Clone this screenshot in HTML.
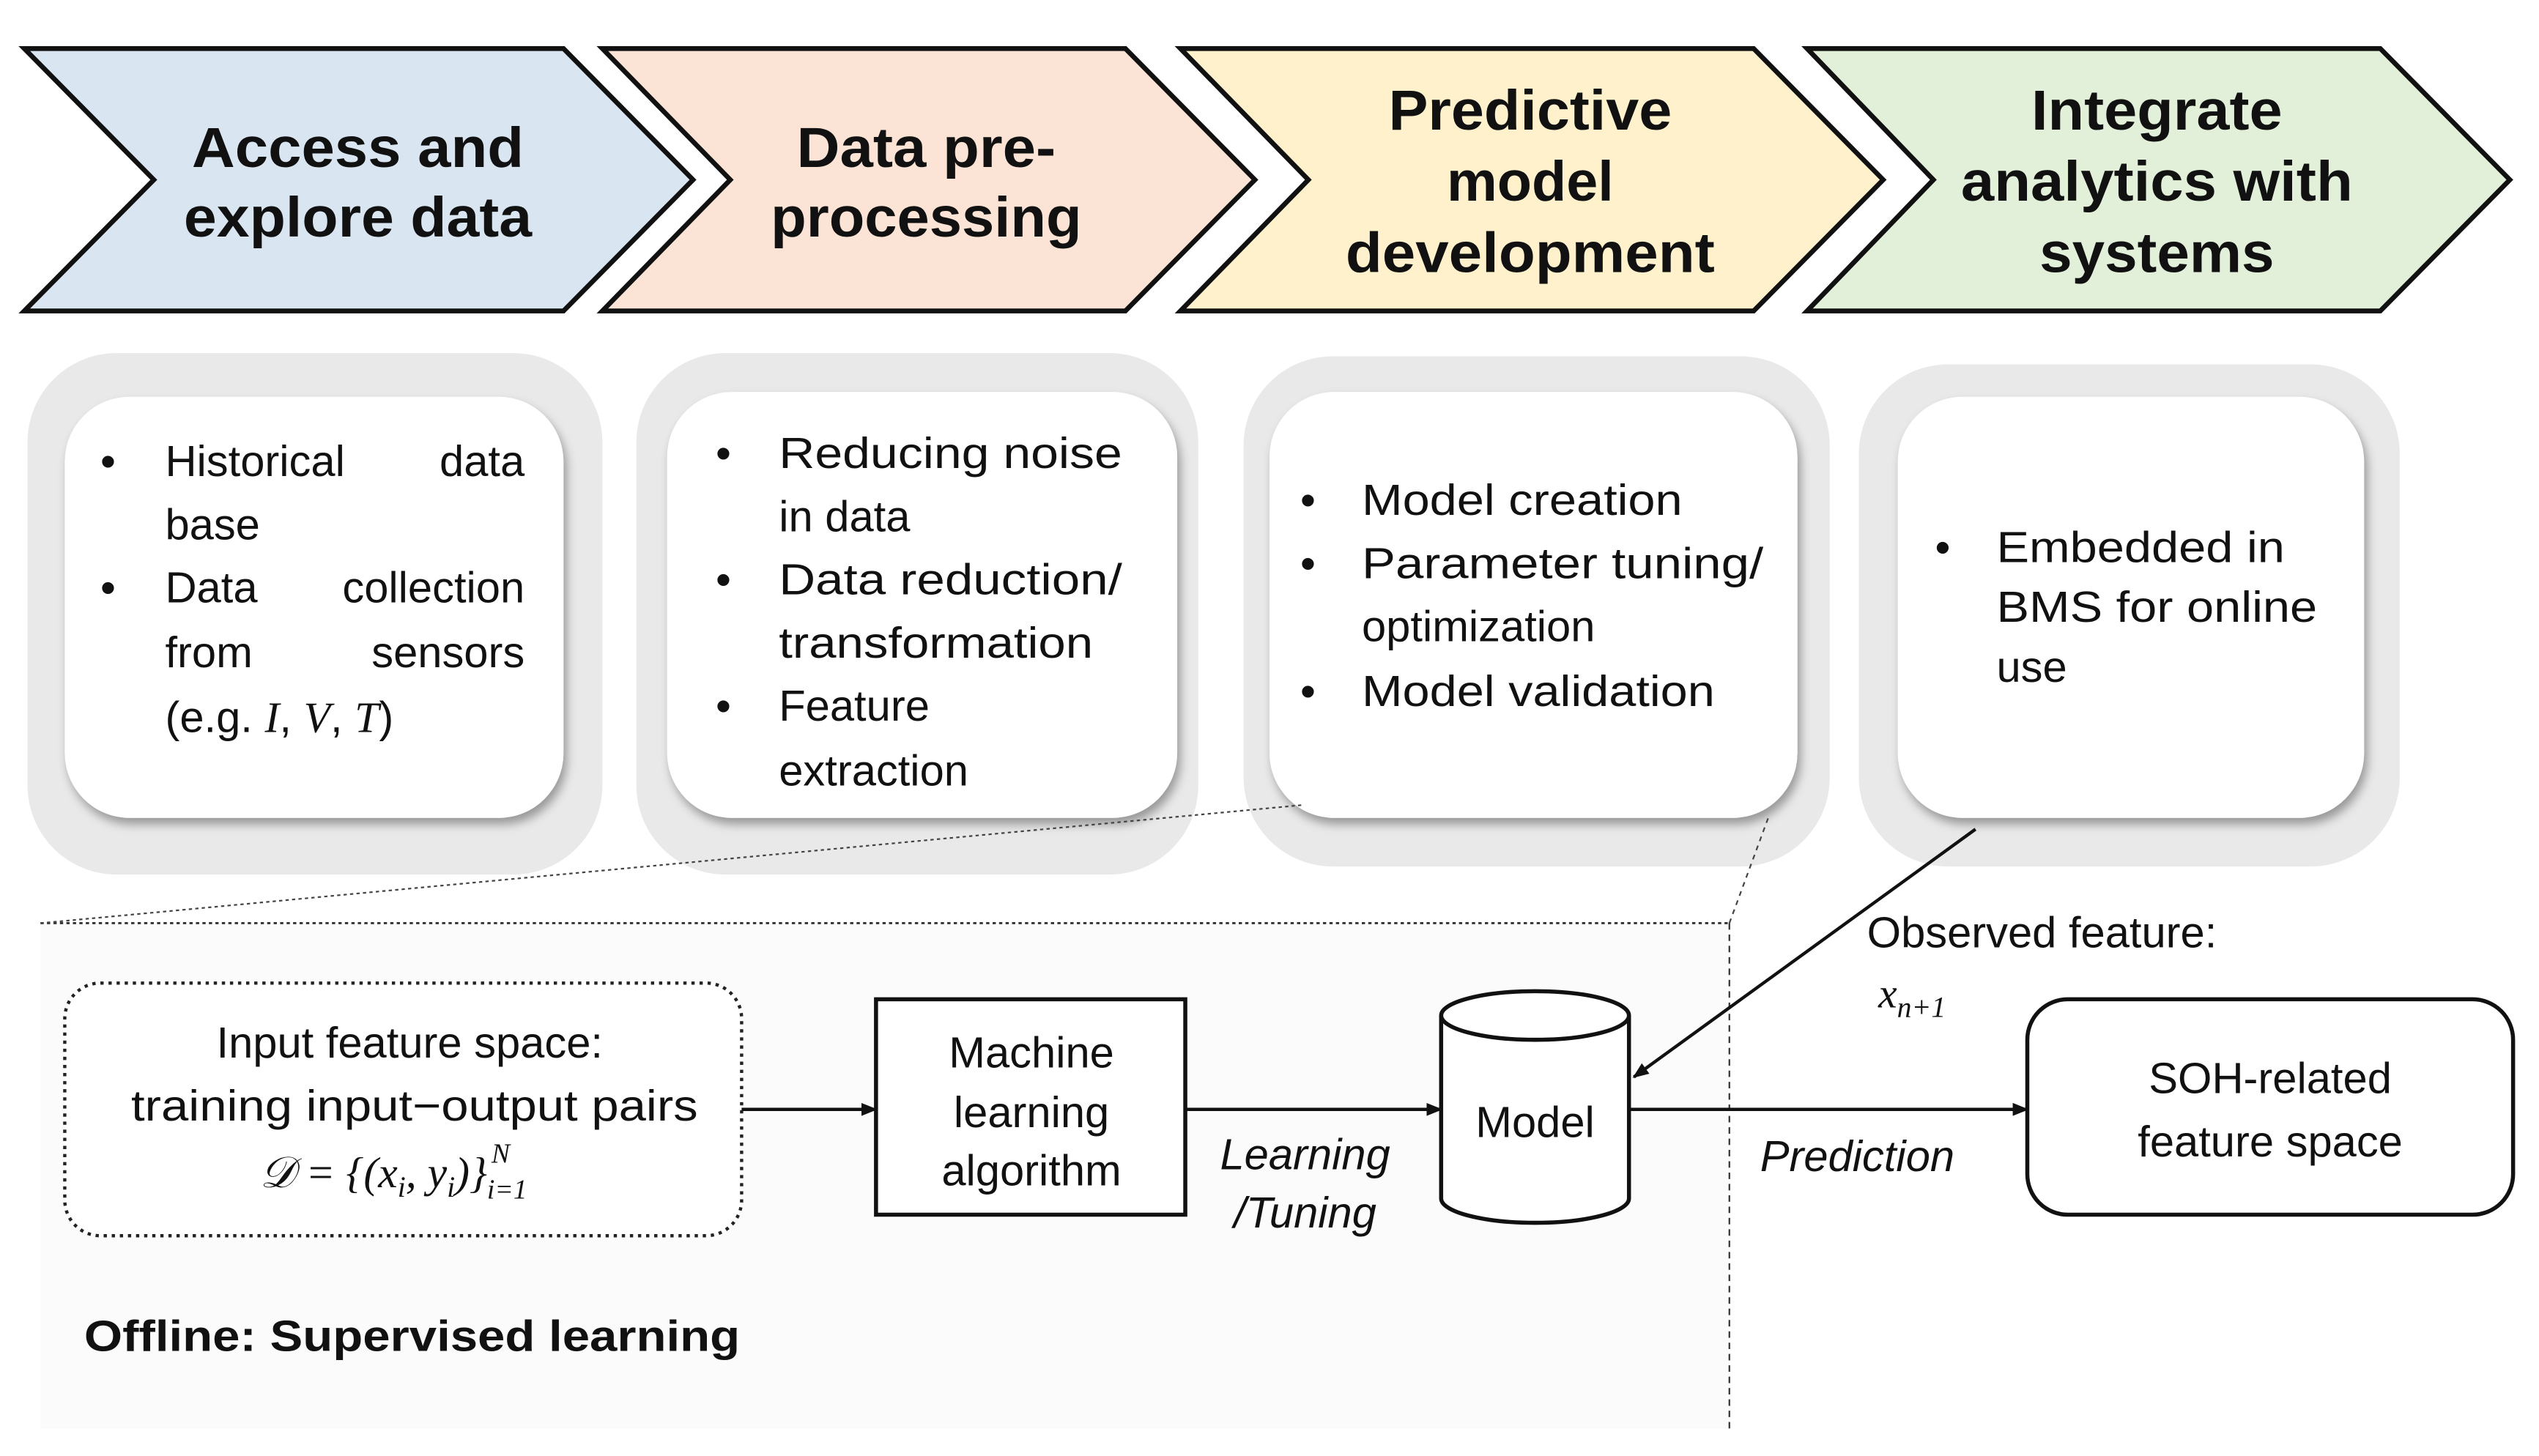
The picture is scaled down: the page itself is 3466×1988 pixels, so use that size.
<!DOCTYPE html>
<html><head><meta charset="utf-8"><style>
html,body{margin:0;padding:0;background:#fff}
svg{display:block}
text{font-family:"Liberation Sans",sans-serif;fill:#111}
.h{font-weight:bold;font-size:35px;text-anchor:middle}
.b{font-size:27px}
.m{font-family:"Liberation Serif",serif;font-style:italic}
</style></head><body>
<svg width="3466" height="1988" viewBox="0 0 1568 899" preserveAspectRatio="none" xmlns="http://www.w3.org/2000/svg">
<defs>
<filter id="sh" x="-10%" y="-10%" width="125%" height="125%"><feDropShadow dx="2" dy="4" stdDeviation="3" flood-color="#000" flood-opacity="0.35"/></filter>
<marker id="ar" markerWidth="10" markerHeight="10" refX="9" refY="5" orient="auto" markerUnits="userSpaceOnUse"><path d="M0,1 L10,5 L0,9 z" fill="#111"/></marker>
</defs>
<!-- chevrons -->
<polygon points="15,30 348,30 428,111 348,192 15,192 95,111" fill="#dae5f2" stroke="#111" stroke-width="3"/>
<polygon points="372,30 695,30 775,111 695,192 372,192 451,111" fill="#fbe3d5" stroke="#111" stroke-width="3"/>
<polygon points="729,30 1083,30 1163,111 1083,192 729,192 808,111" fill="#fff1cc" stroke="#111" stroke-width="3"/>
<polygon points="1116,30 1470,30 1550,111 1470,192 1116,192 1194,111" fill="#e2efd9" stroke="#111" stroke-width="3"/>
<text class="h" x="221" y="103" textLength="205" lengthAdjust="spacingAndGlyphs">Access  and</text><text class="h" x="221" y="146" textLength="215" lengthAdjust="spacingAndGlyphs">explore data</text>
<text class="h" x="572" y="103" textLength="160" lengthAdjust="spacingAndGlyphs">Data pre-</text><text class="h" x="572" y="146" textLength="192" lengthAdjust="spacingAndGlyphs">processing</text>
<text class="h" x="945" y="80" textLength="175" lengthAdjust="spacingAndGlyphs">Predictive</text><text class="h" x="945" y="124">model</text><text class="h" x="945" y="168" textLength="228" lengthAdjust="spacingAndGlyphs">development</text>
<text class="h" x="1332" y="80" textLength="155" lengthAdjust="spacingAndGlyphs">Integrate</text><text class="h" x="1332" y="124" textLength="242" lengthAdjust="spacingAndGlyphs">analytics with</text><text class="h" x="1332" y="168" textLength="145" lengthAdjust="spacingAndGlyphs">systems</text>
<!-- gray panels -->
<rect x="17" y="218" width="355" height="322" rx="55" fill="#e9e9e9"/>
<rect x="393" y="218" width="347" height="322" rx="55" fill="#e9e9e9"/>
<rect x="768" y="220" width="362" height="315" rx="55" fill="#e9e9e9"/>
<rect x="1148" y="225" width="334" height="310" rx="55" fill="#e9e9e9"/>
<rect x="40" y="245" width="308" height="260" rx="40" fill="#fff" filter="url(#sh)"/>
<rect x="412" y="242" width="315" height="263" rx="40" fill="#fff" filter="url(#sh)"/>
<rect x="784" y="242" width="326" height="263" rx="40" fill="#fff" filter="url(#sh)"/>
<rect x="1172" y="245" width="288" height="260" rx="40" fill="#fff" filter="url(#sh)"/>
<g class="b">
<text x="62" y="294">•</text><text x="102" y="294">Historical</text><text x="324" y="294" text-anchor="end">data</text>
<text x="102" y="333">base</text>
<text x="62" y="372">•</text><text x="102" y="372">Data</text><text x="324" y="372" text-anchor="end">collection</text>
<text x="102" y="412">from</text><text x="324" y="412" text-anchor="end">sensors</text>
<text x="102" y="452">(e.g. <tspan class="m">I</tspan>, <tspan class="m">V</tspan>, <tspan class="m">T</tspan>)</text>
<text x="442" y="289">•</text><text x="481" y="289" textLength="212" lengthAdjust="spacingAndGlyphs">Reducing noise</text>
<text x="481" y="328">in data</text>
<text x="442" y="367">•</text><text x="481" y="367" textLength="212" lengthAdjust="spacingAndGlyphs">Data  reduction/</text>
<text x="481" y="406" textLength="194" lengthAdjust="spacingAndGlyphs">transformation</text>
<text x="442" y="445">•</text><text x="481" y="445">Feature</text>
<text x="481" y="485">extraction</text>
<text x="803" y="318">•</text><text x="841" y="318" textLength="198" lengthAdjust="spacingAndGlyphs">Model creation</text>
<text x="803" y="357">•</text><text x="841" y="357" textLength="248" lengthAdjust="spacingAndGlyphs">Parameter  tuning/</text>
<text x="841" y="396">optimization</text>
<text x="803" y="436">•</text><text x="841" y="436" textLength="218" lengthAdjust="spacingAndGlyphs">Model validation</text>
<text x="1195" y="347">•</text><text x="1233" y="347" textLength="178" lengthAdjust="spacingAndGlyphs">Embedded in</text>
<text x="1233" y="384" textLength="198" lengthAdjust="spacingAndGlyphs">BMS for online</text>
<text x="1233" y="421">use</text>
</g>
<!-- offline region -->
<rect x="25" y="570" width="1043" height="312" fill="#fbfbfb"/>
<line x1="25" y1="570" x2="1068" y2="570" stroke="#333" stroke-width="1.3" stroke-dasharray="2,2"/>
<line x1="1068" y1="570" x2="1068" y2="882" stroke="#333" stroke-width="1" stroke-dasharray="4,3"/>
<line x1="25" y1="570" x2="805" y2="497" stroke="#444" stroke-width="1" stroke-dasharray="2,2"/>
<line x1="1068" y1="570" x2="1092" y2="505" stroke="#444" stroke-width="1" stroke-dasharray="3,3"/>
<rect x="40" y="607" width="418" height="156" rx="22" fill="#fff" stroke="#222" stroke-width="2" stroke-dasharray="2,3"/>
<line x1="458" y1="685" x2="541" y2="685" stroke="#111" stroke-width="2" marker-end="url(#ar)"/>
<line x1="732" y1="685" x2="890" y2="685" stroke="#111" stroke-width="2" marker-end="url(#ar)"/>
<line x1="1006" y1="685" x2="1252" y2="685" stroke="#111" stroke-width="2" marker-end="url(#ar)"/>
<rect x="541" y="617" width="191" height="133" fill="#fff" stroke="#111" stroke-width="2.5"/>
<path d="M890,627 L890,740 A58,15 0 0 0 1006,740 L1006,627" fill="#fff" stroke="#111" stroke-width="2.5"/>
<ellipse cx="948" cy="627" rx="58" ry="15" fill="#fff" stroke="#111" stroke-width="2.5"/>
<rect x="1252" y="617" width="300" height="133" rx="25" fill="#fff" stroke="#111" stroke-width="2.5"/>
<line x1="1220" y1="512" x2="1009" y2="665" stroke="#111" stroke-width="2" marker-end="url(#ar)"/>
<g class="b" text-anchor="middle">
<text x="253" y="653">Input feature space:</text>
<text x="256" y="692" textLength="350" lengthAdjust="spacingAndGlyphs">training input−output pairs</text>
<text x="243" y="733" class="m" font-size="27">𝒟 = {(x<tspan font-size="18" dy="6">i</tspan><tspan dy="-6">, y</tspan><tspan font-size="18" dy="6">i</tspan><tspan dy="-6">)}</tspan><tspan font-size="17" dy="7">i=1</tspan><tspan font-size="17" dx="-22" dy="-22">N</tspan></text>
<text x="637" y="659">Machine</text><text x="637" y="696">learning</text><text x="637" y="732">algorithm</text>
<text x="806" y="722" font-style="italic">Learning</text><text x="806" y="758" font-style="italic">/Tuning</text>
<text x="948" y="702">Model</text>
<text x="1147" y="723" font-style="italic">Prediction</text>
<text x="1402" y="675">SOH-related</text><text x="1402" y="714">feature space</text>
</g>
<text class="b" x="1153" y="585" font-size="25">Observed feature:</text>
<text x="1160" y="622" class="m" font-size="26">x<tspan font-size="18" dy="6">n+1</tspan></text>
<text x="52" y="834" font-size="27" font-weight="bold" textLength="405" lengthAdjust="spacingAndGlyphs">Offline: Supervised learning</text>
</svg>
</body></html>
